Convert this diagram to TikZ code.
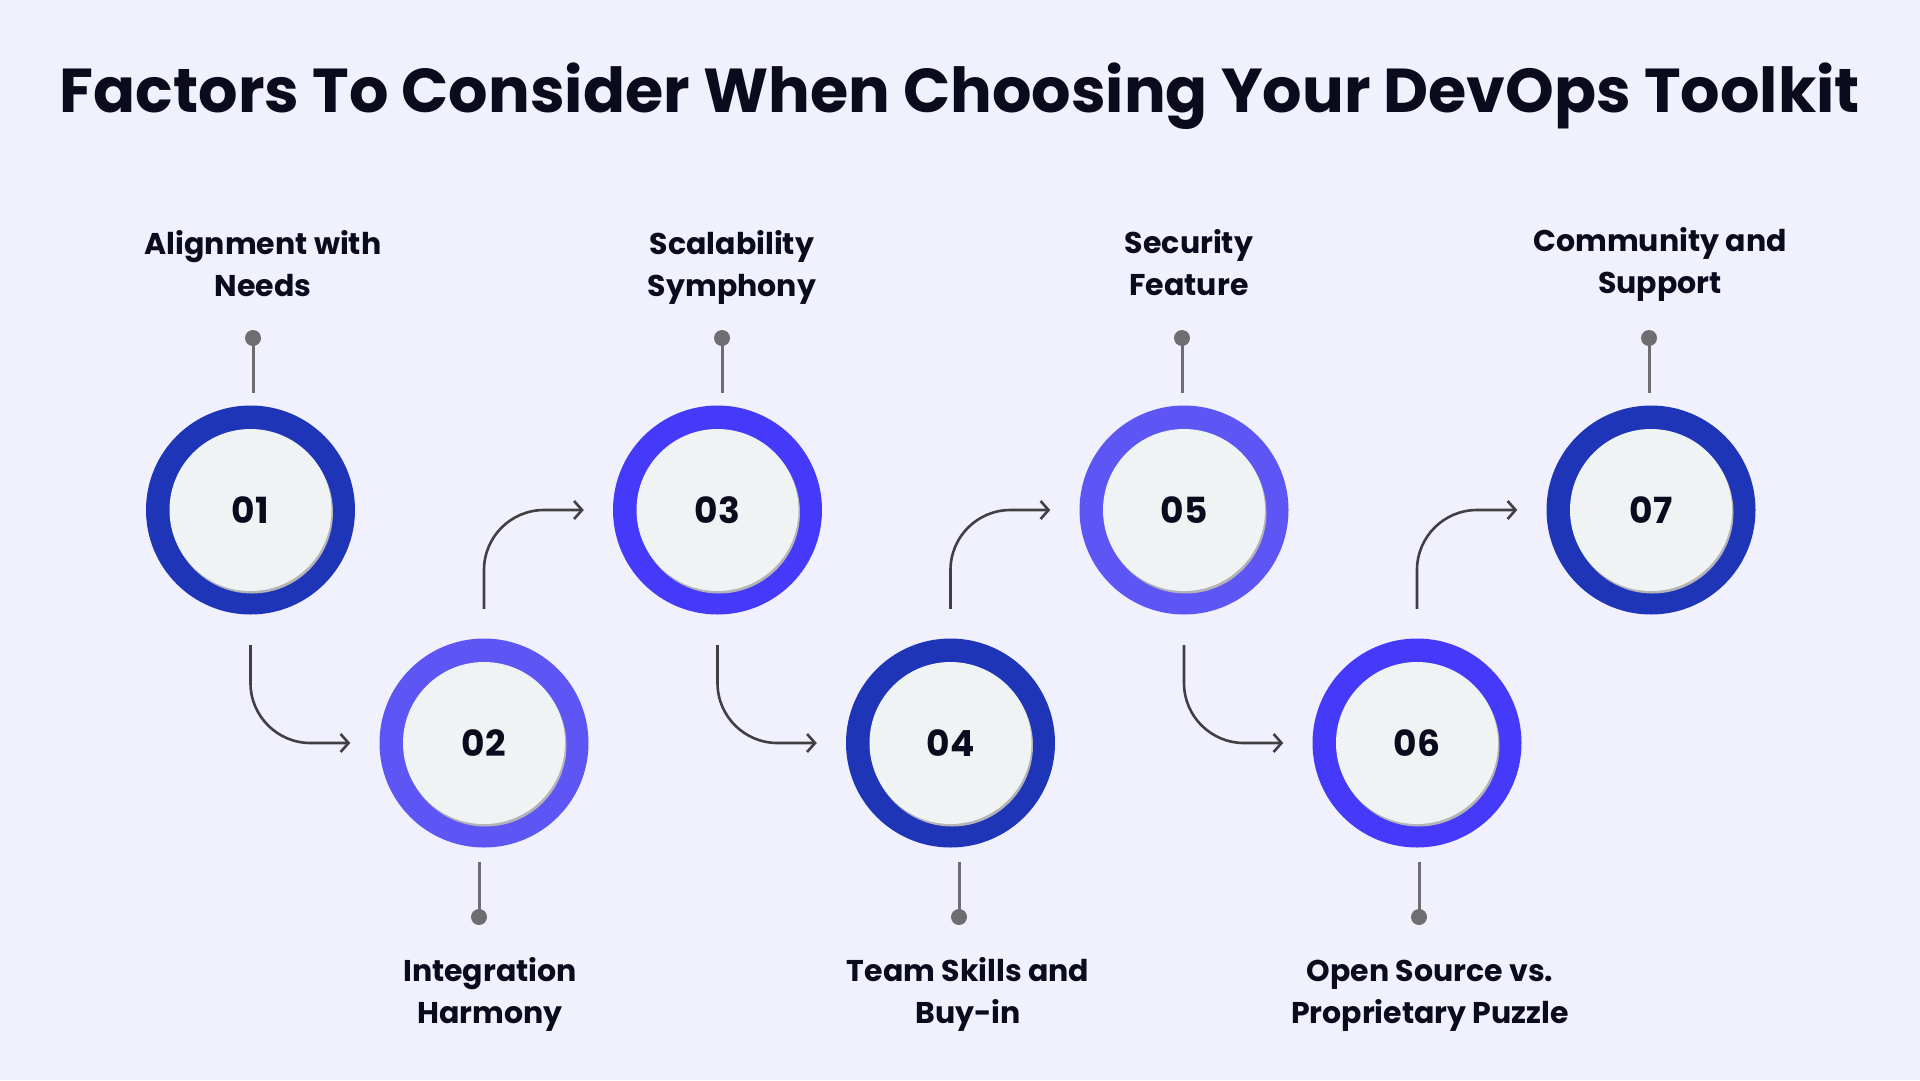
\documentclass[tikz,border=0pt]{standalone}
\usepackage{fontspec}
\setmainfont{Poppins}
\usetikzlibrary{arrows.meta}
\definecolor{bg}{HTML}{F1F1FD}
\definecolor{ringA}{HTML}{1E35B8}
\definecolor{ringB}{HTML}{5D56F5}
\definecolor{ringC}{HTML}{4539FA}
\definecolor{innerfill}{HTML}{EFF3F3}
\definecolor{shadowgray}{HTML}{B4B4B8}
\definecolor{pingray}{HTML}{6E6E72}
\definecolor{arrowgray}{HTML}{404044}
\definecolor{ink}{HTML}{0B0B1E}
\tikzset{
  ring/.style={circle, minimum size=209pt, inner sep=0pt, fill=#1},
  innerdisc/.style={circle, minimum size=162pt, inner sep=0pt, fill=innerfill,
     font=\fontsize{36}{36}\selectfont\bfseries, text=ink},
  discshadow/.style={circle, minimum size=162pt, inner sep=0pt, fill=shadowgray},
  pindot/.style={circle, minimum size=16pt, inner sep=0pt, fill=pingray},
  pinline/.style={draw=pingray, line width=3pt},
  flow/.style={draw=arrowgray, line width=2.6pt, rounded corners=60pt,
     -{Straight Barb[length=8pt,width=18pt]}},
  lbl/.style={align=center, anchor=base, text=ink,
     font=\fontsize{30}{42}\selectfont\bfseries},
}
\begin{document}
\begin{tikzpicture}[x=1pt,y=-1pt]
\fill[bg] (0,0) rectangle (1920,1080);
\useasboundingbox (0,0) rectangle (1920,1080);

\node[anchor=base, text=ink, font=\fontsize{62}{62}\selectfont\bfseries] (title) at (960,112)
  {Factors To Consider When Choosing Your DevOps Toolkit};

% circles
\foreach \i/\x/\y/\c in {1/250.5/510/ringA, 2/484/743/ringB, 3/717.5/510/ringC,
                         4/950.5/743/ringA, 5/1184/510/ringB, 6/1417/743/ringC,
                         7/1651/510/ringA}{
  \node[ring=\c] (c\i) at (\x,\y) {};
  \node[discshadow] (s\i) at (\x+1.5,\y+2.5) {};
  \node[innerdisc] (n\i) at (\x,\y) {0\i};
}

% pins (top)
\foreach \i/\x in {1/253, 3/722, 5/1182, 7/1649}{
  \coordinate (q\i) at (\x,393);
  \draw[pinline] (\x,338) -- (q\i);
  \node[pindot] (p\i) at (\x,338) {};
}
% pins (bottom)
\foreach \i/\x in {2/479, 4/959, 6/1419}{
  \coordinate (q\i) at (\x,862);
  \draw[pinline] (q\i) -- (\x,917);
  \node[pindot] (p\i) at (\x,917) {};
}

% labels (anchored at the baseline of the last line)
\node[lbl] (l1) at (263,296) {Alignment with\\Needs};
\node[lbl] (l3) at (732,296) {Scalability\\Symphony};
\node[lbl] (l5) at (1189,295) {Security\\Feature};
\node[lbl] (l7) at (1660,293) {Community and\\Support};
\node[lbl] (l2) at (490,1023) {Integration\\Harmony};
\node[lbl] (l4) at (968,1023) {Team Skills and\\Buy-in};
\node[lbl] (l6) at (1430,1023) {Open Source vs.\\Proprietary Puzzle};

% flow arrows
\foreach \a/\b in {1/2, 3/4, 5/6}{
  \draw[flow] ([yshift=-30.5pt]c\a.south) |- ([xshift=-29pt]c\b.west);
}
\foreach \a/\b in {2/3, 4/5, 6/7}{
  \draw[flow] ([yshift=29.5pt]c\a.north) |- ([xshift=-29pt]c\b.west);
}
\end{tikzpicture}
\end{document}
